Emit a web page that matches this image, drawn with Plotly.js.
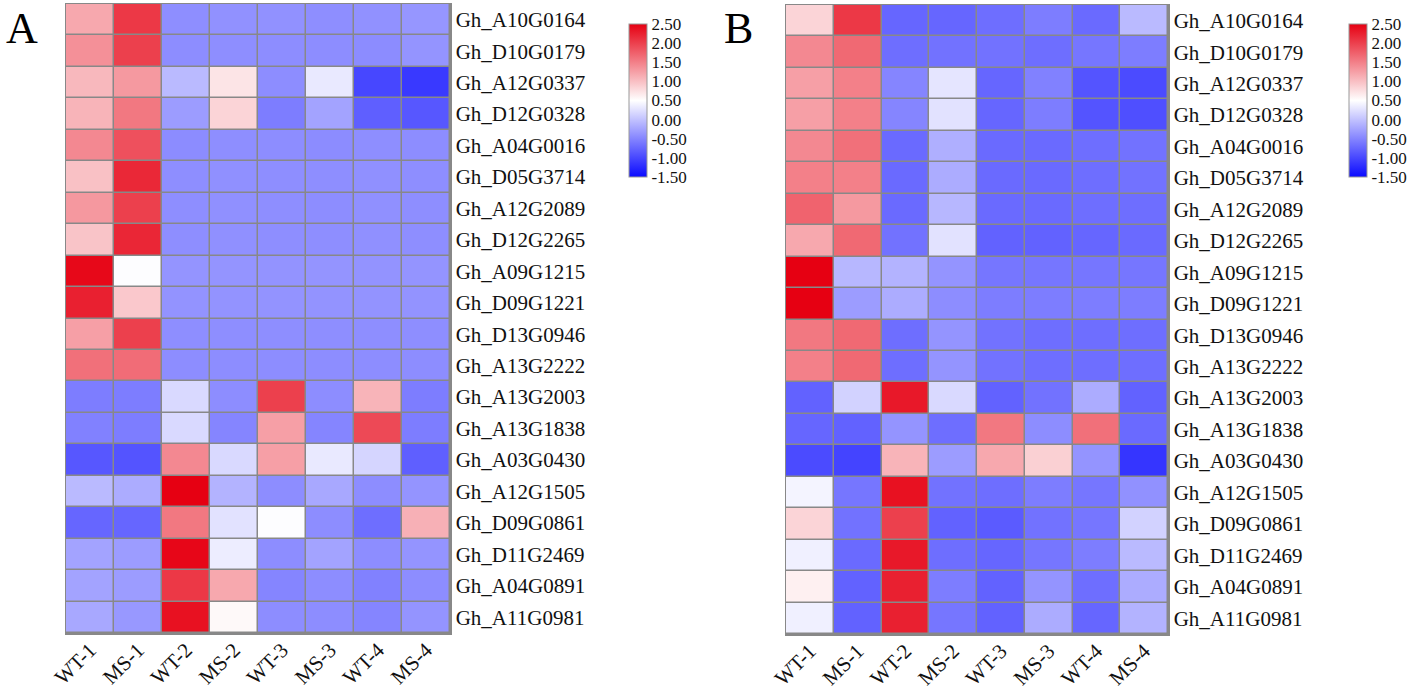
<!DOCTYPE html>
<html>
<head>
<meta charset="utf-8">
<script src="https://cdn.plot.ly/plotly-3.0.1.min.js"></script>
<style>html,body{margin:0;padding:0;background:#fff;}#chart{width:1418px;height:691px;}</style>
</head>
<body>
<div id="chart"></div>
<script>
const samples = ['WT-1','MS-1','WT-2','MS-2','WT-3','MS-3','WT-4','MS-4'];
const genes = ['Gh_A10G0164','Gh_D10G0179','Gh_A12G0337','Gh_D12G0328','Gh_A04G0016','Gh_D05G3714','Gh_A12G2089','Gh_D12G2265','Gh_A09G1215','Gh_D09G1221','Gh_D13G0946','Gh_A13G2222','Gh_A13G2003','Gh_A13G1838','Gh_A03G0430','Gh_A12G1505','Gh_D09G0861','Gh_D11G2469','Gh_A04G0891','Gh_A11G0981'];

// Panel A values (rows = genes, columns = samples)
const valuesA = [
  [1.18, 2.06, -0.42, -0.40, -0.40, -0.42, -0.40, -0.36],
  [1.37, 2.00, -0.43, -0.42, -0.43, -0.43, -0.44, -0.37],
  [1.06, 1.30, -0.06, 0.71, -0.43, 0.32, -1.00, -1.12],
  [1.09, 1.56, -0.31, 0.84, -0.56, -0.25, -0.81, -0.87],
  [1.43, 1.87, -0.44, -0.42, -0.43, -0.44, -0.42, -0.43],
  [0.99, 2.19, -0.42, -0.41, -0.42, -0.42, -0.41, -0.42],
  [1.31, 2.00, -0.42, -0.41, -0.42, -0.43, -0.41, -0.42],
  [0.96, 2.20, -0.42, -0.41, -0.42, -0.42, -0.41, -0.42],
  [2.44, 0.48, -0.37, -0.37, -0.38, -0.37, -0.38, -0.37],
  [2.25, 0.93, -0.38, -0.38, -0.38, -0.38, -0.38, -0.38],
  [1.25, 2.00, -0.42, -0.42, -0.42, -0.42, -0.42, -0.42],
  [1.62, 1.65, -0.43, -0.43, -0.43, -0.43, -0.43, -0.43],
  [-0.56, -0.56, 0.19, -0.43, 2.00, -0.43, 1.09, -0.56],
  [-0.53, -0.56, 0.19, -0.50, 1.25, -0.50, 1.93, -0.56],
  [-0.87, -0.90, 1.43, 0.19, 1.25, 0.32, 0.16, -0.81],
  [-0.06, -0.18, 2.50, -0.12, -0.43, -0.21, -0.43, -0.37],
  [-0.75, -0.75, 1.56, 0.26, 0.48, -0.43, -0.68, 1.12],
  [-0.25, -0.31, 2.45, 0.35, -0.43, -0.25, -0.43, -0.37],
  [-0.25, -0.31, 2.06, 1.18, -0.50, -0.43, -0.53, -0.43],
  [-0.21, -0.34, 2.37, 0.55, -0.43, -0.43, -0.50, -0.37]
];

// Panel B values
const valuesB = [
  [0.84, 2.06, -0.75, -0.75, -0.68, -0.56, -0.72, -0.06],
  [1.43, 1.68, -0.68, -0.65, -0.65, -0.68, -0.62, -0.56],
  [1.25, 1.50, -0.50, 0.29, -0.75, -0.53, -0.90, -0.97],
  [1.25, 1.50, -0.50, 0.26, -0.75, -0.56, -0.90, -0.94],
  [1.43, 1.62, -0.72, -0.15, -0.72, -0.72, -0.68, -0.65],
  [1.50, 1.50, -0.72, -0.18, -0.72, -0.72, -0.68, -0.65],
  [1.72, 1.30, -0.72, -0.09, -0.72, -0.72, -0.68, -0.68],
  [1.18, 1.68, -0.65, 0.26, -0.78, -0.78, -0.75, -0.72],
  [2.50, -0.09, -0.12, -0.37, -0.62, -0.62, -0.62, -0.62],
  [2.50, -0.31, -0.18, -0.43, -0.56, -0.56, -0.56, -0.56],
  [1.56, 1.68, -0.68, -0.37, -0.65, -0.68, -0.68, -0.68],
  [1.50, 1.68, -0.68, -0.37, -0.65, -0.68, -0.68, -0.68],
  [-0.78, 0.13, 2.31, 0.19, -0.78, -0.65, -0.18, -0.78],
  [-0.75, -0.78, -0.37, -0.68, 1.56, -0.43, 1.62, -0.72],
  [-0.97, -1.03, 1.09, -0.31, 1.18, 0.87, -0.37, -1.15],
  [0.41, -0.62, 2.37, -0.65, -0.68, -0.56, -0.62, -0.40],
  [0.84, -0.65, 2.00, -0.78, -0.84, -0.65, -0.62, 0.13],
  [0.38, -0.72, 2.31, -0.68, -0.75, -0.62, -0.56, -0.06],
  [0.62, -0.78, 2.25, -0.56, -0.78, -0.37, -0.68, -0.18],
  [0.38, -0.78, 2.25, -0.62, -0.78, -0.18, -0.75, -0.12]
];

const cbTicks = [2.5, 2.0, 1.5, 1.0, 0.5, 0.0, -0.5, -1.0, -1.5];
const cbText = ['2.50','2.00','1.50','1.00','0.50','0.00','-0.50','-1.00','-1.50'];

const W = 1418, H = 691;
const FONT = 'Liberation Serif, Times New Roman, serif';
const scale = [[0, 'rgb(10,10,255)'], [0.5, 'rgb(255,255,255)'], [1, 'rgb(230,0,18)']];

function cb(xpx) {
  return {
    x: xpx / W, xanchor: 'left', xpad: 0, ypad: 0,
    y: 1 - 100.5 / H, yanchor: 'middle',
    len: 153, lenmode: 'pixels', thickness: 18, thicknessmode: 'pixels',
    outlinecolor: '#999', outlinewidth: 1,
    tickvals: cbTicks, ticktext: cbText, ticks: '', ticklabelpad: 1,
    tickfont: {family: FONT, size: 17, color: '#111'}
  };
}

const common = {
  type: 'heatmap', x: samples, y: genes, colorscale: scale,
  zmin: -1.5, zmax: 2.5, xgap: 1.5, ygap: 1.5, hoverongaps: false
};

const data = [
  Object.assign({}, common, {z: valuesA, xaxis: 'x', yaxis: 'y', colorbar: cb(629)}),
  Object.assign({}, common, {z: valuesB, xaxis: 'x2', yaxis: 'y2', colorbar: cb(1349)})
];

function xax(d) {
  return {domain: d, tickangle: -45, showgrid: false, zeroline: false, ticks: '',
    showline: true, mirror: true, linecolor: '#888', linewidth: 1.5, ticklabelstandoff: -5,
    tickfont: {family: FONT, size: 21, color: '#111'}, fixedrange: true};
}
function yax(d, anchor) {
  return {domain: d, anchor: anchor, side: 'right', autorange: 'reversed', showgrid: false, zeroline: false,
    ticks: '', showline: true, mirror: true, linecolor: '#888', linewidth: 1.5,
    tickfont: {family: FONT, size: 21, color: '#111'}, fixedrange: true};
}

const layout = {
  width: W, height: H, margin: {l: 0, r: 0, t: 0, b: 0},
  paper_bgcolor: '#fff', plot_bgcolor: '#888',
  showlegend: false,
  xaxis: Object.assign(xax([66 / W, 450 / W]), {anchor: 'y'}),
  yaxis: yax([(H - 633) / H, (H - 4) / H], 'x'),
  xaxis2: Object.assign(xax([786 / W, 1168 / W]), {anchor: 'y2'}),
  yaxis2: yax([(H - 634) / H, (H - 5) / H], 'x2'),
  annotations: [
    {text: 'A', xref: 'paper', yref: 'paper', x: 4 / W, y: 1 - 2 / H, xanchor: 'left', yanchor: 'top', showarrow: false, font: {family: FONT, size: 44, color: '#000'}},
    {text: 'B', xref: 'paper', yref: 'paper', x: 722 / W, y: 1 - 2 / H, xanchor: 'left', yanchor: 'top', showarrow: false, font: {family: FONT, size: 44, color: '#000'}}
  ]
};

Plotly.newPlot('chart', data, layout, {displayModeBar: false, staticPlot: true});
</script>
</body>
</html>
